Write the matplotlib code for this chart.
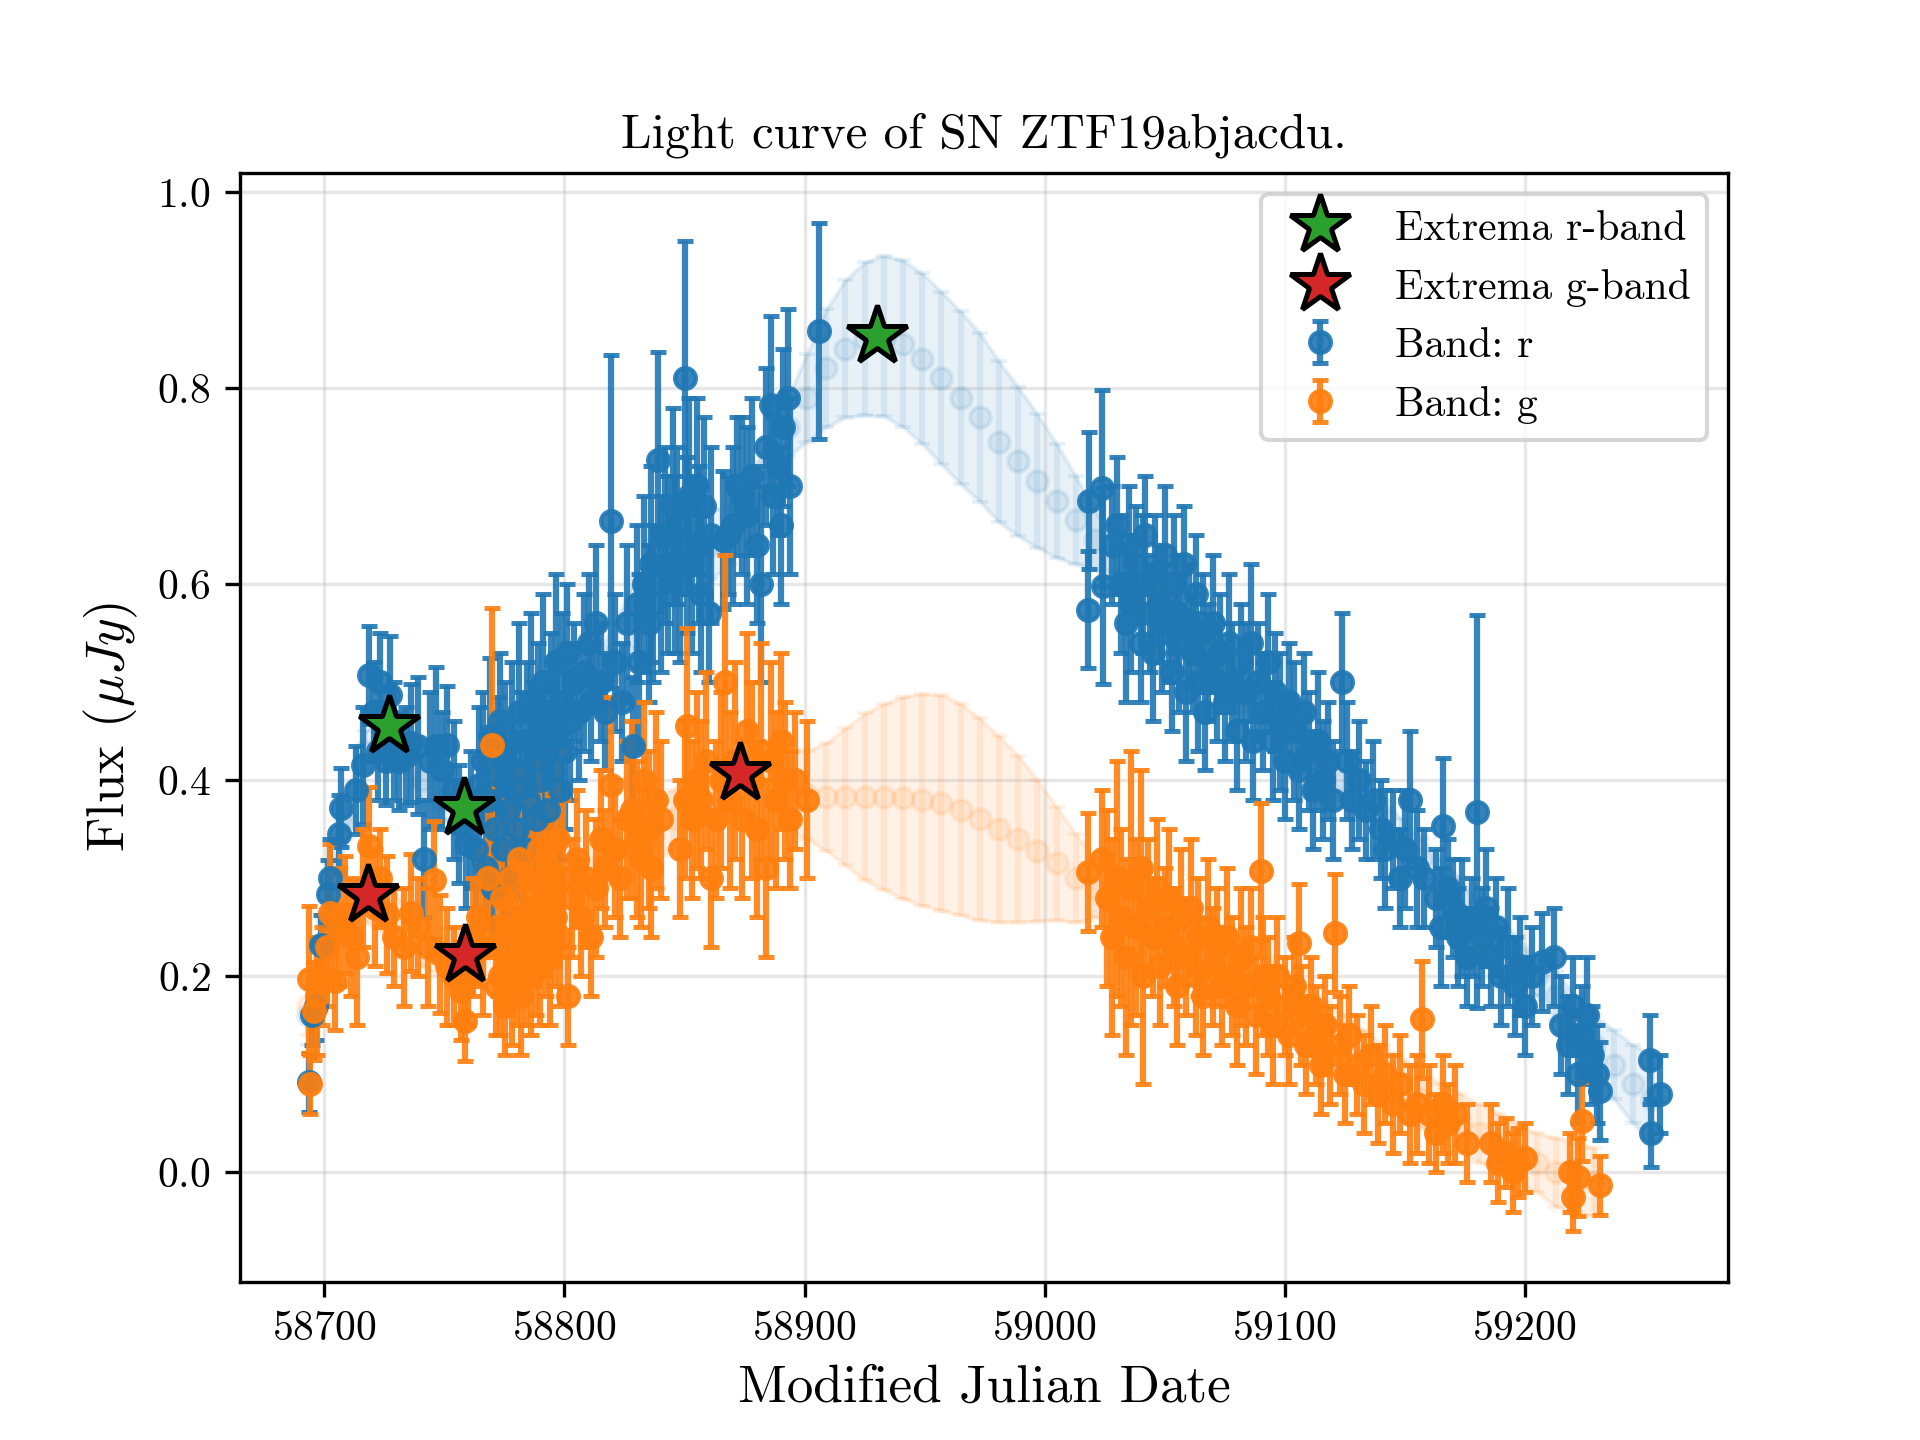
import matplotlib
matplotlib.use('Agg')
import matplotlib.pyplot as plt
import numpy as np

plt.rcParams['font.family'] = 'serif'
plt.rcParams['font.serif'] = ['cmr10']
plt.rcParams['mathtext.fontset'] = 'cm'
plt.rcParams['axes.formatter.use_mathtext'] = True
plt.rcParams['axes.unicode_minus'] = False

# r-band, rising part (MJD, flux, error)
r_rise_mjd = [
    58693.5, 58695.0, 58696.5, 58698.5, 58701.5, 58702.5, 58706.0, 58707.0, 58713.0, 58716.0,
    58718.5, 58720.5, 58722.5, 58723.0, 58725.5, 58727.5, 58729.0, 58731.0, 58734.0, 58736.0,
    58739.0, 58741.5, 58744.0, 58746.5, 58749.0, 58751.0, 58754.0, 58756.0, 58759.0, 58761.0,
    58763.0, 58764.5, 58766.2, 58767.1, 58768.3, 58769.0, 58770.2, 58771.1, 58772.3, 58773.0,
    58774.2, 58775.1, 58776.3, 58777.0, 58778.2, 58779.1, 58780.3, 58781.0, 58782.2, 58783.1,
    58784.3, 58785.0, 58786.2, 58787.1, 58788.3, 58789.0, 58790.2, 58791.1, 58792.3, 58793.0,
    58794.2, 58795.1, 58796.3, 58797.0, 58798.2, 58799.1, 58800.3, 58801.0, 58802.2, 58804.0,
    58806.0, 58808.0, 58810.0, 58811.0, 58813.0, 58815.0, 58817.0, 58819.5, 58821.0, 58824.0,
    58826.0, 58828.5, 58830.0, 58831.0, 58833.0, 58835.0, 58836.0, 58837.0, 58839.0, 58840.0,
    58842.0, 58843.0, 58845.0, 58846.0, 58847.0, 58848.0, 58850.0, 58851.0, 58852.0, 58853.0,
    58855.0, 58856.0, 58857.0, 58858.0, 58860.0, 58861.0, 58866.0, 58868.0, 58870.0, 58872.0,
    58874.0, 58876.0, 58878.0, 58880.0, 58882.0, 58884.0, 58886.0, 58887.0, 58889.0, 58890.0,
    58891.0, 58893.0, 58894.0, 58906.0,
]
r_rise_flux = [
    0.092, 0.160, 0.170, 0.232, 0.284, 0.300, 0.345, 0.372, 0.390, 0.415,
    0.507, 0.470, 0.430, 0.500, 0.420, 0.487, 0.440, 0.420, 0.425, 0.438,
    0.435, 0.320, 0.420, 0.435, 0.410, 0.436, 0.390, 0.355, 0.335, 0.360,
    0.330, 0.395, 0.420, 0.310, 0.380, 0.445, 0.290, 0.350, 0.405, 0.460,
    0.330, 0.420, 0.370, 0.300, 0.440, 0.390, 0.350, 0.470, 0.410, 0.330,
    0.440, 0.380, 0.480, 0.420, 0.360, 0.460, 0.400, 0.500, 0.430, 0.370,
    0.470, 0.410, 0.520, 0.450, 0.390, 0.480, 0.430, 0.530, 0.460, 0.500,
    0.470, 0.510, 0.540, 0.480, 0.560, 0.500, 0.470, 0.664, 0.520, 0.480,
    0.560, 0.435, 0.580, 0.520, 0.600, 0.560, 0.620, 0.580, 0.727, 0.600,
    0.650, 0.620, 0.680, 0.620, 0.660, 0.600, 0.810, 0.640, 0.690, 0.620,
    0.700, 0.640, 0.590, 0.680, 0.570, 0.650, 0.645, 0.650, 0.660, 0.700,
    0.690, 0.670, 0.710, 0.640, 0.600, 0.740, 0.783, 0.690, 0.720, 0.660,
    0.760, 0.790, 0.700, 0.858,
]
r_rise_err = [
    0.030, 0.030, 0.035, 0.030, 0.035, 0.040, 0.040, 0.040, 0.045, 0.060,
    0.050, 0.050, 0.050, 0.050, 0.045, 0.060, 0.060, 0.050, 0.050, 0.060,
    0.070, 0.060, 0.070, 0.080, 0.060, 0.060, 0.070, 0.060, 0.065, 0.070,
    0.060, 0.080, 0.070, 0.060, 0.070, 0.080, 0.060, 0.070, 0.080, 0.070,
    0.070, 0.080, 0.070, 0.060, 0.080, 0.070, 0.070, 0.090, 0.080, 0.070,
    0.080, 0.070, 0.090, 0.080, 0.070, 0.080, 0.080, 0.090, 0.080, 0.070,
    0.080, 0.080, 0.090, 0.080, 0.070, 0.090, 0.080, 0.070, 0.080, 0.060,
    0.070, 0.080, 0.070, 0.060, 0.080, 0.060, 0.060, 0.170, 0.070, 0.060,
    0.080, 0.070, 0.080, 0.090, 0.090, 0.080, 0.100, 0.080, 0.110, 0.090,
    0.090, 0.090, 0.100, 0.090, 0.080, 0.080, 0.140, 0.090, 0.100, 0.090,
    0.090, 0.080, 0.080, 0.090, 0.070, 0.090, 0.070, 0.060, 0.080, 0.070,
    0.080, 0.090, 0.080, 0.080, 0.100, 0.080, 0.090, 0.080, 0.070, 0.080,
    0.080, 0.090, 0.090, 0.110,
]

# r-band, declining part
r_fall_mjd = [
    59018.0, 59018.5, 59024.0, 59024.5, 59028.0, 59030.0, 59032.0, 59034.0, 59035.0, 59036.0,
    59038.0, 59040.0, 59041.0, 59042.0, 59044.0, 59045.0, 59046.0, 59048.0, 59049.0, 59050.0,
    59052.0, 59053.0, 59054.0, 59055.0, 59056.0, 59058.0, 59059.0, 59060.0, 59062.0, 59063.0,
    59064.0, 59066.0, 59067.0, 59068.0, 59070.0, 59072.0, 59073.0, 59075.0, 59077.0, 59078.0,
    59080.0, 59082.0, 59084.0, 59086.0, 59087.0, 59089.0, 59091.0, 59093.0, 59095.0, 59096.0,
    59098.0, 59100.0, 59102.0, 59104.0, 59106.0, 59108.0, 59110.0, 59112.0, 59114.0, 59116.0,
    59118.0, 59120.0, 59124.0, 59126.0, 59128.0, 59131.0, 59134.0, 59137.0, 59140.0, 59142.0,
    59145.0, 59148.0, 59150.0, 59152.0, 59155.0, 59158.0, 59163.0, 59165.0, 59166.0, 59168.0,
    59170.0, 59172.0, 59174.0, 59176.0, 59178.0, 59180.0, 59182.0, 59184.0, 59186.0, 59188.0,
    59190.0, 59193.0, 59196.0, 59198.0, 59200.0, 59203.0, 59207.0, 59212.0, 59215.0, 59218.0,
    59220.0, 59222.0, 59224.0, 59226.0, 59228.0, 59230.0, 59231.5, 59252.0, 59252.5, 59256.5,
]
r_fall_flux = [
    0.574, 0.685, 0.698, 0.598, 0.640, 0.660, 0.600, 0.560, 0.640, 0.580,
    0.620, 0.540, 0.600, 0.650, 0.570, 0.530, 0.610, 0.580, 0.550, 0.630,
    0.560, 0.510, 0.600, 0.570, 0.540, 0.620, 0.490, 0.560, 0.530, 0.590,
    0.500, 0.550, 0.470, 0.520, 0.560, 0.500, 0.530, 0.480, 0.540, 0.500,
    0.450, 0.520, 0.490, 0.540, 0.440, 0.500, 0.470, 0.520, 0.440, 0.490,
    0.460, 0.420, 0.480, 0.450, 0.410, 0.470, 0.430, 0.390, 0.440, 0.400,
    0.420, 0.380, 0.500, 0.420, 0.380, 0.400, 0.370, 0.380, 0.350, 0.330,
    0.340, 0.300, 0.330, 0.380, 0.310, 0.300, 0.280, 0.250, 0.353, 0.290,
    0.270, 0.240, 0.260, 0.220, 0.250, 0.368, 0.240, 0.270, 0.220, 0.250,
    0.200, 0.230, 0.190, 0.210, 0.170, 0.200, 0.215, 0.220, 0.150, 0.130,
    0.170, 0.100, 0.140, 0.160, 0.120, 0.100, 0.083, 0.115, 0.040, 0.080,
]
r_fall_err = [
    0.06, 0.07, 0.10, 0.10, 0.06, 0.07, 0.07, 0.08, 0.06, 0.07,
    0.06, 0.06, 0.07, 0.06, 0.06, 0.07, 0.06, 0.06, 0.06, 0.07,
    0.06, 0.06, 0.07, 0.06, 0.07, 0.06, 0.07, 0.06, 0.06, 0.06,
    0.07, 0.06, 0.06, 0.06, 0.07, 0.06, 0.06, 0.06, 0.07, 0.06,
    0.06, 0.06, 0.07, 0.08, 0.06, 0.06, 0.06, 0.07, 0.06, 0.06,
    0.07, 0.06, 0.06, 0.07, 0.06, 0.06, 0.06, 0.06, 0.07, 0.06,
    0.06, 0.06, 0.07, 0.06, 0.05, 0.06, 0.05, 0.06, 0.05, 0.06,
    0.05, 0.05, 0.06, 0.07, 0.06, 0.05, 0.05, 0.06, 0.07, 0.05,
    0.05, 0.05, 0.06, 0.05, 0.05, 0.20, 0.05, 0.06, 0.05, 0.05,
    0.05, 0.06, 0.05, 0.05, 0.05, 0.05, 0.05, 0.05, 0.05, 0.05,
    0.05, 0.05, 0.05, 0.06, 0.05, 0.05, 0.05, 0.045, 0.035, 0.04,
]

# g-band, rising part
g_rise_mjd = [
    58693.5, 58693.8, 58695.5, 58697.0, 58699.0, 58701.0, 58702.5, 58704.5, 58706.0, 58708.5,
    58711.0, 58713.5, 58716.0, 58718.5, 58721.0, 58723.0, 58726.0, 58729.0, 58733.0, 58736.0,
    58739.0, 58743.0, 58745.5, 58748.0, 58751.0, 58754.0, 58757.0, 58758.5, 58760.0, 58762.0,
    58764.0, 58766.0, 58768.0, 58770.0, 58771.3, 58772.1, 58773.2, 58774.0, 58775.3, 58776.1,
    58777.2, 58778.0, 58779.3, 58780.1, 58781.2, 58782.0, 58783.3, 58784.1, 58785.2, 58786.0,
    58787.3, 58788.1, 58789.2, 58790.0, 58791.3, 58792.1, 58793.2, 58794.0, 58795.3, 58796.1,
    58797.2, 58798.0, 58799.3, 58801.5, 58803.0, 58805.0, 58807.0, 58809.0, 58811.0, 58813.0,
    58815.0, 58817.0, 58819.5, 58821.0, 58823.0, 58826.0, 58828.0, 58830.0, 58832.0, 58833.0,
    58835.0, 58836.0, 58838.0, 58840.0, 58848.0, 58850.0, 58851.0, 58853.0, 58855.0, 58857.0,
    58859.0, 58861.0, 58863.0, 58865.0, 58867.0, 58869.0, 58871.0, 58874.0, 58876.0, 58878.0,
    58880.0, 58882.0, 58884.0, 58886.0, 58888.0, 58890.0, 58892.0, 58894.0, 58896.0, 58901.0,
]
g_rise_flux = [
    0.197, 0.090, 0.165, 0.180, 0.200, 0.230, 0.265, 0.195, 0.250, 0.263,
    0.240, 0.220, 0.290, 0.333, 0.270, 0.300, 0.263, 0.240, 0.230, 0.265,
    0.250, 0.230, 0.298, 0.223, 0.210, 0.200, 0.185, 0.154, 0.200, 0.240,
    0.260, 0.230, 0.300, 0.436, 0.190, 0.250, 0.200, 0.280, 0.170, 0.230,
    0.300, 0.190, 0.250, 0.210, 0.320, 0.180, 0.260, 0.220, 0.300, 0.200,
    0.270, 0.230, 0.330, 0.210, 0.280, 0.250, 0.310, 0.220, 0.290, 0.260,
    0.340, 0.240, 0.300, 0.180, 0.280, 0.320, 0.260, 0.300, 0.240, 0.290,
    0.340, 0.310, 0.395, 0.330, 0.300, 0.360, 0.370, 0.340, 0.320, 0.400,
    0.350, 0.310, 0.380, 0.360, 0.330, 0.380, 0.455, 0.360, 0.400, 0.380,
    0.420, 0.300, 0.360, 0.400, 0.500, 0.380, 0.420, 0.360, 0.450, 0.400,
    0.350, 0.430, 0.310, 0.420, 0.380, 0.440, 0.400, 0.360, 0.400, 0.380,
]
g_rise_err = [
    0.075, 0.030, 0.050, 0.060, 0.050, 0.060, 0.070, 0.050, 0.060, 0.060,
    0.060, 0.070, 0.060, 0.060, 0.060, 0.050, 0.060, 0.050, 0.060, 0.060,
    0.050, 0.060, 0.060, 0.060, 0.060, 0.050, 0.050, 0.040, 0.050, 0.060,
    0.070, 0.070, 0.080, 0.140, 0.050, 0.070, 0.060, 0.080, 0.050, 0.070,
    0.080, 0.060, 0.070, 0.060, 0.090, 0.060, 0.070, 0.070, 0.080, 0.060,
    0.080, 0.070, 0.090, 0.060, 0.080, 0.070, 0.080, 0.070, 0.080, 0.070,
    0.090, 0.070, 0.080, 0.050, 0.060, 0.070, 0.060, 0.070, 0.060, 0.070,
    0.070, 0.060, 0.090, 0.070, 0.060, 0.080, 0.090, 0.080, 0.070, 0.080,
    0.080, 0.070, 0.090, 0.080, 0.070, 0.080, 0.100, 0.080, 0.090, 0.080,
    0.090, 0.070, 0.080, 0.090, 0.130, 0.090, 0.100, 0.080, 0.100, 0.100,
    0.090, 0.110, 0.090, 0.100, 0.090, 0.090, 0.080, 0.070, 0.070, 0.080,
]

# g-band, declining part
g_fall_mjd = [
    59018.0, 59024.0, 59026.0, 59028.0, 59030.0, 59032.0, 59034.0, 59036.0, 59038.0, 59040.0,
    59041.0, 59043.0, 59045.0, 59047.0, 59048.0, 59050.0, 59052.0, 59054.0, 59055.0, 59057.0,
    59059.0, 59061.0, 59063.0, 59064.0, 59066.0, 59068.0, 59070.0, 59072.0, 59074.0, 59076.0,
    59078.0, 59080.0, 59082.0, 59084.0, 59086.0, 59088.0, 59090.0, 59091.0, 59093.0, 59095.0,
    59097.0, 59100.0, 59102.0, 59104.0, 59106.0, 59107.0, 59109.0, 59111.0, 59113.0, 59115.0,
    59117.0, 59119.0, 59121.0, 59123.0, 59125.0, 59127.0, 59130.0, 59133.0, 59136.0, 59139.0,
    59142.0, 59145.0, 59148.0, 59152.0, 59155.0, 59157.0, 59160.0, 59163.0, 59166.0, 59168.0,
    59171.0, 59176.0, 59186.0, 59189.0, 59192.0, 59195.0, 59197.0, 59200.0, 59219.0, 59220.0,
    59222.0, 59224.0, 59231.5,
]
g_fall_flux = [
    0.306, 0.320, 0.280, 0.240, 0.300, 0.260, 0.220, 0.290, 0.250, 0.310,
    0.200, 0.270, 0.240, 0.290, 0.210, 0.250, 0.280, 0.230, 0.190, 0.260,
    0.220, 0.270, 0.200, 0.240, 0.180, 0.250, 0.210, 0.230, 0.190, 0.240,
    0.200, 0.170, 0.220, 0.190, 0.230, 0.160, 0.307, 0.200, 0.180, 0.150,
    0.200, 0.170, 0.140, 0.190, 0.234, 0.160, 0.130, 0.170, 0.140, 0.110,
    0.150, 0.120, 0.244, 0.130, 0.100, 0.140, 0.110, 0.090, 0.120, 0.080,
    0.100, 0.070, 0.090, 0.060, 0.070, 0.156, 0.060, 0.040, 0.070, 0.050,
    0.060, 0.030, 0.030, 0.010, 0.020, 0.000, 0.010, 0.015, 0.000, -0.025,
    -0.005, 0.052, -0.013,
]
g_fall_err = [
    0.06, 0.07, 0.09, 0.10, 0.12, 0.09, 0.10, 0.14, 0.09, 0.10,
    0.11, 0.07, 0.06, 0.07, 0.06, 0.06, 0.07, 0.06, 0.06, 0.07,
    0.06, 0.07, 0.06, 0.06, 0.06, 0.07, 0.06, 0.06, 0.06, 0.07,
    0.06, 0.06, 0.07, 0.06, 0.06, 0.06, 0.07, 0.06, 0.06, 0.06,
    0.06, 0.05, 0.05, 0.05, 0.06, 0.05, 0.05, 0.05, 0.05, 0.05,
    0.05, 0.05, 0.06, 0.05, 0.05, 0.05, 0.05, 0.05, 0.05, 0.05,
    0.05, 0.05, 0.05, 0.05, 0.05, 0.06, 0.05, 0.04, 0.05, 0.04,
    0.05, 0.04, 0.04, 0.04, 0.035, 0.04, 0.035, 0.035, 0.04, 0.035,
    0.04, 0.04, 0.03,
]

# Gaussian-process prediction grid
gp_mjd = [
    58693, 58701, 58709, 58717, 58725, 58733, 58741, 58749, 58757, 58765,
    58773, 58781, 58789, 58797, 58805, 58813, 58821, 58829, 58837, 58845,
    58853, 58861, 58869, 58877, 58885, 58893, 58901, 58909, 58917, 58925,
    58933, 58941, 58949, 58957, 58965, 58973, 58981, 58989, 58997, 59005,
    59013, 59021, 59029, 59037, 59045, 59053, 59061, 59069, 59077, 59085,
    59093, 59101, 59109, 59117, 59125, 59133, 59141, 59149, 59157, 59165,
    59173, 59181, 59189, 59197, 59205, 59213, 59221, 59229, 59237, 59245,
    59253,
]
gp_r_mean = [
    0.16, 0.26, 0.36, 0.43, 0.45, 0.43, 0.40, 0.38, 0.37, 0.37,
    0.38, 0.40, 0.42, 0.44, 0.47, 0.50, 0.53, 0.57, 0.61, 0.64,
    0.65, 0.64, 0.65, 0.68, 0.72, 0.76, 0.79, 0.82, 0.84, 0.85,
    0.853, 0.845, 0.83, 0.81, 0.79, 0.77, 0.745, 0.725, 0.705, 0.685,
    0.665, 0.645, 0.62, 0.60, 0.585, 0.57, 0.55, 0.53, 0.51, 0.49,
    0.47, 0.45, 0.43, 0.415, 0.40, 0.38, 0.36, 0.34, 0.32, 0.30,
    0.28, 0.26, 0.24, 0.22, 0.20, 0.18, 0.155, 0.13, 0.11, 0.09,
    0.075,
]
gp_r_std = [
    0.03, 0.025, 0.02, 0.02, 0.02, 0.02, 0.02, 0.02, 0.02, 0.02,
    0.02, 0.02, 0.02, 0.02, 0.025, 0.025, 0.03, 0.035, 0.035, 0.035,
    0.035, 0.035, 0.03, 0.03, 0.03, 0.03, 0.045, 0.06, 0.07, 0.078,
    0.082, 0.085, 0.087, 0.088, 0.088, 0.086, 0.082, 0.076, 0.068, 0.058,
    0.045, 0.03, 0.02, 0.02, 0.02, 0.02, 0.02, 0.02, 0.02, 0.02,
    0.02, 0.02, 0.02, 0.02, 0.02, 0.02, 0.02, 0.02, 0.02, 0.02,
    0.02, 0.02, 0.02, 0.02, 0.02, 0.025, 0.025, 0.03, 0.035, 0.04,
    0.045,
]
gp_g_mean = [
    0.17, 0.22, 0.26, 0.28, 0.27, 0.25, 0.235, 0.225, 0.22, 0.225,
    0.235, 0.25, 0.27, 0.29, 0.30, 0.31, 0.32, 0.33, 0.345, 0.36,
    0.375, 0.385, 0.395, 0.40, 0.395, 0.39, 0.385, 0.383, 0.383, 0.383,
    0.383, 0.382, 0.38, 0.377, 0.37, 0.36, 0.35, 0.34, 0.328, 0.315,
    0.30, 0.29, 0.28, 0.27, 0.26, 0.25, 0.24, 0.23, 0.22, 0.21,
    0.195, 0.18, 0.165, 0.15, 0.135, 0.12, 0.105, 0.09, 0.075, 0.06,
    0.05, 0.04, 0.03, 0.02, 0.01, 0.0, -0.005, -0.01,
]
gp_g_std = [
    0.03, 0.025, 0.025, 0.025, 0.025, 0.025, 0.025, 0.025, 0.025, 0.025,
    0.025, 0.025, 0.025, 0.025, 0.025, 0.025, 0.025, 0.025, 0.03, 0.03,
    0.03, 0.03, 0.035, 0.04, 0.04, 0.04, 0.045, 0.055, 0.07, 0.085,
    0.095, 0.103, 0.108, 0.11, 0.108, 0.103, 0.095, 0.085, 0.072, 0.058,
    0.045, 0.03, 0.025, 0.025, 0.025, 0.025, 0.025, 0.025, 0.025, 0.025,
    0.025, 0.025, 0.025, 0.025, 0.025, 0.025, 0.025, 0.025, 0.03, 0.03,
    0.03, 0.03, 0.03, 0.03, 0.03, 0.035, 0.035, 0.035,
]

# extrema found on the GP curves
r_ext_mjd = [58727, 58758, 58930]
r_ext_flux = [0.455, 0.372, 0.853]
g_ext_mjd = [58718, 58758.5, 58873]
g_ext_flux = [0.283, 0.222, 0.407]

r_mjd = np.array(r_rise_mjd + r_fall_mjd)
r_flux = np.array(r_rise_flux + r_fall_flux)
r_err = np.array(r_rise_err + r_fall_err)
g_mjd = np.array(g_rise_mjd + g_fall_mjd)
g_flux = np.array(g_rise_flux + g_fall_flux)
g_err = np.array(g_rise_err + g_fall_err)

gp_r_x = np.array(gp_mjd)
gp_g_x = np.array(gp_mjd[:len(gp_g_mean)])
gp_r_mean = np.array(gp_r_mean)
gp_r_std = np.array(gp_r_std)
gp_g_mean = np.array(gp_g_mean)
gp_g_std = np.array(gp_g_std)

fig, ax = plt.subplots(figsize=(6.4, 4.8))

# stars first so they come first in the legend
ax.plot(r_ext_mjd, r_ext_flux, '*', color='C2', markeredgecolor='k', markersize=15,
        markeredgewidth=1.2, zorder=10, label='Extrema r-band')
ax.plot(g_ext_mjd, g_ext_flux, '*', color='C3', markeredgecolor='k', markersize=15,
        markeredgewidth=1.2, zorder=10, label='Extrema g-band')

# GP predictions (faint)
ax.fill_between(gp_r_x, gp_r_mean - gp_r_std, gp_r_mean + gp_r_std, color='C0', alpha=0.1)
ax.errorbar(gp_r_x, gp_r_mean, yerr=gp_r_std, fmt='o', color='C0', alpha=0.1,
            capsize=2, markersize=5)
ax.fill_between(gp_g_x, gp_g_mean - gp_g_std, gp_g_mean + gp_g_std, color='C1', alpha=0.1)
ax.errorbar(gp_g_x, gp_g_mean, yerr=gp_g_std, fmt='o', color='C1', alpha=0.1,
            capsize=2, markersize=5)

# observations
ax.errorbar(r_mjd, r_flux, yerr=r_err, fmt='o', color='C0', alpha=0.9,
            capsize=2, markersize=5, elinewidth=1.5, capthick=1.2, label='Band: r')
ax.errorbar(g_mjd, g_flux, yerr=g_err, fmt='o', color='C1', alpha=0.9,
            capsize=2, markersize=5, elinewidth=1.5, capthick=1.2, label='Band: g')

ax.grid(alpha=0.3)
ax.set_title('Light curve of SN ZTF19abjacdu.', fontsize=11.75)
ax.set_xlabel('Modified Julian Date', fontsize=12.75)
ax.set_ylabel(r'Flux ($\mu Jy$)', fontsize=12.75)
ax.legend(loc='upper right')

fig.savefig('out.png', dpi=300)
